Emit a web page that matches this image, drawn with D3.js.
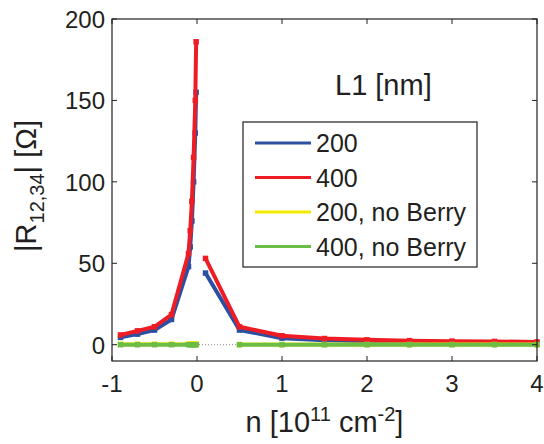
<!DOCTYPE html>
<html>
<head>
<meta charset="utf-8">
<script src="https://cdn.jsdelivr.net/npm/d3@7"></script>
<style>
  body { margin: 0; background: #fff; }
  svg text { font-family: "Liberation Sans", Arial, sans-serif; fill: #231f20; }
</style>
</head>
<body>
<svg id="chart" width="544" height="444"></svg>
<script>
// data
const xLeft = [-0.9, -0.7, -0.5, -0.3, -0.1, -0.08, -0.06, -0.04, -0.02, -0.01];
const xRight = [0.1, 0.5, 1, 1.5, 2, 2.5, 3, 3.5, 4];
const xRightNoBerry = [0.5, 1, 1.5, 2, 2.5, 3, 3.5, 4];

const blueLeft = [4.5, 6.5, 9, 15.5, 48, 60, 76, 100, 130, 155];
const blueRight = [44, 9, 4, 2.8, 2.2, 1.8, 1.5, 1.3, 1.1];
const redLeft = [6, 8.5, 11, 18.5, 56, 70, 88, 115, 150, 186];
const redRight = [53, 11, 5.5, 3.8, 3, 2.5, 2.2, 2, 1.7];
const yellowLeft = [0.3, 0.3, 0.3, 0.3, 0.3, 0.3, 0.3, 0.3, 0.3, 0.3];
const yellowRight = [0.1, 0.1, 0.1, 0.1, 0.1, 0.1, 0.1, 0.1];
const greenLeft = [0, 0, 0, 0, 0, 0, 0, 0, 0, 0];
const greenRight = [0, 0, 0, 0, 0, 0, 0, 0];

const xTicks = [-1, 0, 1, 2, 3, 4];
const yTicks = [0, 50, 100, 150, 200];
const legendLabels = ["200", "400", "200, no Berry", "400, no Berry"];
const colors = ["#2b50a2", "#ee1d25", "#f4ea00", "#6cbd45"];

const svg = d3.select("#chart");
const pl = 112, pr = 537, pt = 19, pb = 361;

const x = d3.scaleLinear().domain([-1, 4]).range([pl, pr]);
const y = d3.scaleLinear().domain([-10, 200]).range([pb, pt]);

const zip = (xs, ys) => xs.map((d, i) => [d, ys[i]]);
const series = [
  { color: colors[0], parts: [zip(xLeft, blueLeft), zip(xRight, blueRight)] },
  { color: colors[1], parts: [zip(xLeft, redLeft), zip(xRight, redRight)] },
  { color: colors[2], parts: [zip(xLeft, yellowLeft), zip(xRightNoBerry, yellowRight)] },
  { color: colors[3], parts: [zip(xLeft, greenLeft), zip(xRightNoBerry, greenRight)] },
];

// dotted zero line
svg.append("line")
  .attr("x1", pl).attr("x2", pr)
  .attr("y1", y(0)).attr("y2", y(0))
  .attr("stroke", "#8c8c8c").attr("stroke-width", 1)
  .attr("stroke-dasharray", "1,2");

const line = d3.line().x(d => x(d[0])).y(d => y(d[1]));

series.forEach(s => {
  const g = svg.append("g");
  s.parts.forEach(p => {
    g.append("path")
      .attr("d", line(p))
      .attr("fill", "none")
      .attr("stroke", s.color)
      .attr("stroke-width", 4)
      .attr("stroke-linejoin", "round");
    // only the ends and the flat tail show markers clearly
    g.selectAll(null)
      .data(p)
      .enter()
      .append("rect")
      .attr("x", d => x(d[0]) - 2.75)
      .attr("y", d => y(d[1]) - 2.75)
      .attr("width", 5.5)
      .attr("height", 5.5)
      .attr("fill", s.color);
  });
});

// frame and ticks
svg.append("rect")
  .attr("x", pl).attr("y", pt)
  .attr("width", pr - pl).attr("height", pb - pt)
  .attr("fill", "none").attr("stroke", "#231f20").attr("stroke-width", 1.2);

const tk = 5;
xTicks.forEach(t => {
  svg.append("line").attr("x1", x(t)).attr("x2", x(t)).attr("y1", pb).attr("y2", pb - tk).attr("stroke", "#231f20");
  svg.append("line").attr("x1", x(t)).attr("x2", x(t)).attr("y1", pt).attr("y2", pt + tk).attr("stroke", "#231f20");
  svg.append("text")
    .attr("x", x(t)).attr("y", 392)
    .attr("text-anchor", "middle")
    .attr("font-size", 24)
    .text(t);
});
yTicks.forEach(t => {
  svg.append("line").attr("x1", pl).attr("x2", pl + tk).attr("y1", y(t)).attr("y2", y(t)).attr("stroke", "#231f20");
  svg.append("line").attr("x1", pr).attr("x2", pr - tk).attr("y1", y(t)).attr("y2", y(t)).attr("stroke", "#231f20");
  svg.append("text")
    .attr("x", 105).attr("y", y(t) + 9)
    .attr("text-anchor", "end")
    .attr("font-size", 24)
    .text(t);
});

// axis titles
const xt = svg.append("text")
  .attr("x", (pl + pr) / 2).attr("y", 432)
  .attr("text-anchor", "middle")
  .attr("font-size", 29);
xt.append("tspan").text("n [10");
xt.append("tspan").attr("font-size", 20).attr("dy", -11).text("11");
xt.append("tspan").attr("dy", 11).text(" cm");
xt.append("tspan").attr("font-size", 20).attr("dy", -11).text("-2");
xt.append("tspan").attr("dy", 11).text("]");

const yt = svg.append("text")
  .attr("transform", `translate(36,${(pt + pb) / 2 - 4}) rotate(-90)`)
  .attr("text-anchor", "middle")
  .attr("font-size", 29);
yt.append("tspan").text("|R");
yt.append("tspan").attr("font-size", 20).attr("dy", 8).text("12,34");
yt.append("tspan").attr("dy", -8).text("| [Ω]");

svg.append("text")
  .attr("x", 335).attr("y", 95)
  .attr("font-size", 29)
  .text("L1 [nm]");

// legend
const lg = svg.append("g");
lg.append("rect")
  .attr("x", 243).attr("y", 122)
  .attr("width", 234).attr("height", 145)
  .attr("fill", "#fff").attr("stroke", "#231f20").attr("stroke-width", 1.2);
legendLabels.forEach((l, i) => {
  const yy = 143 + i * 34.5;
  lg.append("line")
    .attr("x1", 255).attr("x2", 311)
    .attr("y1", yy).attr("y2", yy)
    .attr("stroke", colors[i]).attr("stroke-width", 3);
  lg.append("text")
    .attr("x", 316).attr("y", yy + 9)
    .attr("font-size", 25)
    .text(l);
});
</script>
</body>
</html>
